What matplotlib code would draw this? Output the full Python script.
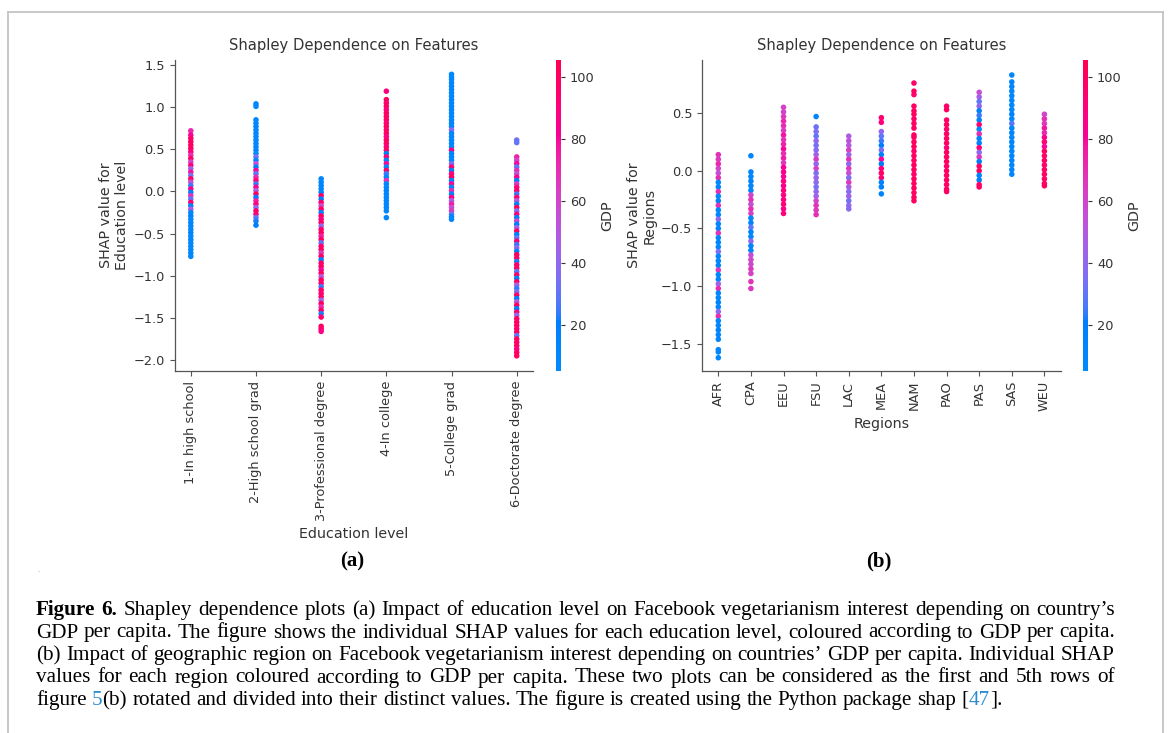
import re
import numpy as np
import matplotlib
matplotlib.use('Agg')
import matplotlib.pyplot as plt
from matplotlib.colors import ListedColormap, Normalize
from matplotlib.lines import Line2D

# ---- data: SHAP values (y) and GDP (colour) per category ----
edu_levels = ['1-In high school', '2-High school grad', '3-Professional degree',
              '4-In college', '5-College grad', '6-Doctorate degree']

hs_shap = [0.72, 0.67, 0.63, 0.59, 0.55, 0.51, 0.47, 0.43, 0.39, 0.35, 0.31, 0.27, 0.23,
           0.19, 0.15, 0.11, 0.07, 0.03, -0.01, -0.05, -0.09, -0.13, -0.17, -0.21, -0.25,
           -0.29, -0.33, -0.37, -0.41, -0.45, -0.49, -0.53, -0.57, -0.61, -0.65, -0.69,
           -0.73, -0.77]
hs_gdp = [72, 80, 95, 100, 98, 100, 88, 70, 96, 60, 90, 45, 78, 35, 100, 55, 25, 85, 15,
          68, 30, 95, 12, 50, 10, 20, 8, 12, 10, 9, 14, 8, 11, 9, 10, 8, 12, 9]

hsg_shap = [1.04, 1.01, 0.85, 0.81, 0.77, 0.73, 0.69, 0.65, 0.61, 0.57, 0.53, 0.49, 0.45,
            0.41, 0.37, 0.33, 0.29, 0.25, 0.21, 0.17, 0.13, 0.09, 0.05, 0.01, -0.03, -0.07,
            -0.11, -0.15, -0.19, -0.23, -0.27, -0.31, -0.35, -0.40]
hsg_gdp = [8, 9, 10, 8, 12, 9, 10, 8, 11, 9, 10, 12, 8, 35, 10, 55, 14, 80, 30, 70, 95, 25,
           85, 45, 100, 20, 75, 92, 40, 98, 88, 30, 22, 18]

prof_shap = [0.15, 0.11, 0.07, 0.03, -0.01, -0.05, -0.09, -0.13, -0.17, -0.21, -0.25,
             -0.29, -0.33, -0.37, -0.41, -0.45, -0.49, -0.53, -0.57, -0.61, -0.65, -0.69,
             -0.73, -0.77, -0.81, -0.85, -0.89, -0.93, -0.97, -1.01, -1.05, -1.09, -1.13,
             -1.17, -1.21, -1.25, -1.29, -1.33, -1.37, -1.41, -1.45, -1.49, -1.60, -1.63,
             -1.66]
prof_gdp = [10, 8, 12, 9, 14, 100, 20, 95, 60, 100, 15, 98, 85, 100, 40, 96, 100, 75, 100,
            30, 95, 100, 65, 100, 18, 98, 100, 80, 100, 50, 100, 95, 25, 100, 90, 100, 45,
            100, 70, 100, 22, 96, 100, 95, 88]

incol_shap = [1.19, 1.09, 1.05, 1.01, 0.97, 0.93, 0.89, 0.85, 0.81, 0.77, 0.73, 0.69, 0.65,
              0.61, 0.57, 0.53, 0.49, 0.45, 0.41, 0.37, 0.33, 0.29, 0.25, 0.21, 0.17, 0.13,
              0.09, 0.05, 0.01, -0.03, -0.07, -0.11, -0.15, -0.19, -0.23, -0.31]
incol_gdp = [90, 100, 95, 100, 88, 100, 98, 100, 92, 100, 96, 100, 85, 100, 98, 90, 100, 20,
             95, 15, 80, 12, 100, 25, 10, 70, 12, 8, 14, 10, 9, 12, 8, 11, 9, 12]

cgrad_shap = [1.39, 1.36, 1.33, 1.29, 1.25, 1.21, 1.17, 1.13, 1.09, 1.05, 1.01, 0.97, 0.93,
              0.89, 0.85, 0.81, 0.77, 0.73, 0.69, 0.65, 0.61, 0.57, 0.53, 0.49, 0.45, 0.41,
              0.37, 0.33, 0.29, 0.25, 0.21, 0.17, 0.13, 0.09, 0.05, 0.01, -0.03, -0.07,
              -0.11, -0.15, -0.19, -0.23, -0.27, -0.30, -0.33]
cgrad_gdp = [8, 9, 10, 8, 12, 9, 10, 8, 11, 9, 10, 12, 8, 10, 9, 11, 8, 40, 10, 12, 9, 10, 8,
             85, 12, 10, 9, 35, 95, 20, 90, 100, 15, 80, 10, 70, 12, 88, 45, 75, 55, 65, 30,
             12, 10]

doc_shap = [0.61, 0.58, 0.41, 0.37, 0.33, 0.29, 0.25, 0.21, 0.17, 0.13, 0.09, 0.05, 0.01,
            -0.03, -0.07, -0.11, -0.15, -0.19, -0.23, -0.27, -0.31, -0.35, -0.39, -0.43,
            -0.47, -0.51, -0.55, -0.59, -0.63, -0.67, -0.71, -0.75, -0.79, -0.83, -0.87,
            -0.91, -0.95, -0.99, -1.03, -1.07, -1.11, -1.15, -1.19, -1.23, -1.27, -1.31,
            -1.35, -1.39, -1.43, -1.47, -1.51, -1.55, -1.59, -1.63, -1.67, -1.71, -1.75,
            -1.79, -1.83, -1.87, -1.91, -1.95]
doc_gdp = [32, 30, 75, 60, 80, 30, 70, 55, 85, 20, 65, 90, 100, 25, 95, 50, 15, 100, 35, 90,
           20, 60, 20, 45, 100, 15, 30, 95, 25, 40, 18, 100, 100, 22, 95, 100, 30, 98, 15,
           100, 45, 25, 35, 100, 20, 50, 100, 18, 95, 40, 100, 100, 100, 95, 100, 30, 100,
           98, 100, 85, 100, 100]

regions = ['AFR', 'CPA', 'EEU', 'FSU', 'LAC', 'MEA', 'NAM', 'PAO', 'PAS', 'SAS', 'WEU']

afr_shap = [0.14, 0.10, 0.06, 0.02, -0.02, -0.06, -0.10, -0.14, -0.18, -0.22, -0.26, -0.30,
            -0.34, -0.38, -0.42, -0.46, -0.50, -0.54, -0.58, -0.62, -0.66, -0.70, -0.74,
            -0.78, -0.82, -0.86, -0.90, -0.94, -0.98, -1.02, -1.06, -1.10, -1.14, -1.18,
            -1.22, -1.26, -1.30, -1.34, -1.38, -1.42, -1.46, -1.55, -1.57, -1.62]
afr_gdp = [68, 65, 72, 60, 55, 70, 12, 10, 70, 12, 15, 68, 10, 12, 40, 10, 14, 68, 10, 12,
           9, 35, 12, 10, 14, 65, 10, 12, 45, 70, 12, 10, 14, 10, 40, 70, 12, 10, 14, 10,
           12, 10, 12, 10]

cpa_shap = [0.13, -0.01, -0.05, -0.09, -0.13, -0.17, -0.21, -0.25, -0.29, -0.33, -0.37,
            -0.41, -0.45, -0.49, -0.53, -0.57, -0.61, -0.65, -0.69, -0.73, -0.77, -0.81,
            -0.85, -0.89, -0.96, -1.02]
cpa_gdp = [10, 12, 10, 14, 10, 12, 60, 68, 55, 70, 62, 12, 15, 30, 12, 10, 40, 14, 12, 55,
           60, 58, 65, 62, 68, 65]

eeu_shap = [0.55, 0.51, 0.47, 0.43, 0.39, 0.35, 0.31, 0.27, 0.23, 0.19, 0.15, 0.11, 0.07,
            0.03, -0.01, -0.05, -0.09, -0.13, -0.17, -0.21, -0.25, -0.29, -0.33, -0.37]
eeu_gdp = [62, 60, 66, 72, 70, 64, 78, 68, 74, 80, 70, 76, 66, 82, 85, 80, 88, 84, 90, 86,
           88, 92, 85, 90]

fsu_shap = [0.47, 0.38, 0.34, 0.30, 0.26, 0.22, 0.18, 0.14, 0.10, 0.06, 0.02, -0.02, -0.06,
            -0.10, -0.14, -0.18, -0.22, -0.26, -0.30, -0.34, -0.38]
fsu_gdp = [15, 32, 36, 30, 40, 34, 38, 44, 64, 40, 62, 36, 42, 38, 34, 40, 44, 60, 68, 66, 70]

lac_shap = [0.30, 0.26, 0.22, 0.18, 0.14, 0.10, 0.06, 0.02, -0.02, -0.06, -0.10, -0.14,
            -0.18, -0.22, -0.26, -0.30, -0.33]
lac_gdp = [48, 54, 50, 62, 44, 68, 40, 64, 56, 36, 66, 48, 38, 44, 34, 40, 38]

mea_shap = [0.46, 0.42, 0.34, 0.30, 0.26, 0.22, 0.18, 0.14, 0.10, 0.06, 0.02, -0.02, -0.06,
            -0.10, -0.14, -0.20]
mea_gdp = [95, 90, 40, 30, 25, 20, 35, 15, 80, 20, 90, 98, 95, 15, 18, 14]

nam_shap = [0.76, 0.69, 0.66, 0.56, 0.52, 0.49, 0.45, 0.41, 0.37, 0.31, 0.29, 0.25, 0.21,
            0.17, 0.13, 0.09, 0.05, 0.01, -0.03, -0.07, -0.11, -0.15, -0.19, -0.23, -0.26]
nam_gdp = [98, 100, 96, 100, 99, 100, 97, 100, 98, 100, 100, 99, 100, 97, 100, 98, 100,
           100, 96, 100, 99, 100, 98, 100, 100]

pao_shap = [0.56, 0.53, 0.44, 0.40, 0.36, 0.32, 0.28, 0.24, 0.20, 0.16, 0.12, 0.08, 0.04,
            0.00, -0.04, -0.08, -0.12, -0.16, -0.18]
pao_gdp = [97, 100, 98, 100, 96, 100, 99, 100, 92, 100, 98, 100, 97, 100, 99, 100, 98, 100,
           100]

pas_shap = [0.68, 0.64, 0.60, 0.56, 0.52, 0.48, 0.44, 0.40, 0.36, 0.32, 0.28, 0.24, 0.20,
            0.16, 0.12, 0.08, 0.04, 0.00, -0.04, -0.08, -0.12, -0.14]
pas_gdp = [55, 45, 30, 40, 20, 25, 15, 95, 12, 70, 18, 15, 92, 40, 65, 20, 98, 100, 15, 20,
           95, 100]

sas_shap = [0.83, 0.77, 0.73, 0.69, 0.65, 0.61, 0.57, 0.53, 0.49, 0.45, 0.41, 0.37, 0.33,
            0.29, 0.25, 0.21, 0.17, 0.13, 0.09, 0.05, 0.01, -0.03]
sas_gdp = [10, 10, 12, 9, 11, 10, 12, 9, 14, 10, 28, 12, 10, 9, 11, 10, 8, 12, 10, 9, 11, 10]

weu_shap = [0.49, 0.45, 0.41, 0.37, 0.33, 0.29, 0.25, 0.21, 0.17, 0.13, 0.09, 0.05, 0.01,
            -0.03, -0.07, -0.11, -0.13]
weu_gdp = [60, 70, 65, 78, 72, 85, 95, 80, 100, 98, 100, 96, 100, 98, 100, 97, 100]

edu_shap = [hs_shap, hsg_shap, prof_shap, incol_shap, cgrad_shap, doc_shap]
edu_gdp = [hs_gdp, hsg_gdp, prof_gdp, incol_gdp, cgrad_gdp, doc_gdp]
reg_shap = [afr_shap, cpa_shap, eeu_shap, fsu_shap, lac_shap, mea_shap, nam_shap,
            pao_shap, pas_shap, sas_shap, weu_shap]
reg_gdp = [afr_gdp, cpa_gdp, eeu_gdp, fsu_gdp, lac_gdp, mea_gdp, nam_gdp, pao_gdp,
           pas_gdp, sas_gdp, weu_gdp]
gdp_ticks = [20, 40, 60, 80, 100]

caption_lines = [
    "**Figure** **6.** Shapley dependence plots (a) Impact of education level on Facebook vegetarianism interest depending on country\u2019s",
    "GDP per capita. The figure shows the individual SHAP values for each education level, coloured according to GDP per capita.",
    "(b) Impact of geographic region on Facebook vegetarianism interest depending on countries\u2019 GDP per capita. Individual SHAP",
    "values for each region coloured according to GDP per capita. These two plots can be considered as the first and 5th rows of",
    "figure __5__(b) rotated and divided into their distinct values. The figure is created using the Python package shap [__47__].",
]


# shap's red_blue colormap (LCH interpolation blue -> red)
def shap_red_blue(n=256):
    L = np.full(n, 54.0)
    C = np.linspace(70.0, 90.0, n)
    H = np.linspace(4.6588, 0.35470565 + 2 * np.pi, n)
    a, b = C * np.cos(H), C * np.sin(H)
    fy = (L + 16) / 116
    fx, fz = fy + a / 500, fy - b / 200
    finv = lambda t: np.where(t > 6 / 29, t ** 3, 3 * (6 / 29) ** 2 * (t - 4 / 29))
    xyz = np.vstack([0.95047 * finv(fx), finv(fy), 1.08883 * finv(fz)])
    M = np.array([[3.2406, -1.5372, -0.4986], [-0.9689, 1.8758, 0.0415],
                  [0.0557, -0.2040, 1.0570]])
    rgb = np.clip(M @ xyz, 0, 1)
    rgb = np.where(rgb > 0.0031308, 1.055 * rgb ** (1 / 2.4) - 0.055, 12.92 * rgb)
    return ListedColormap(np.clip(rgb.T, 0, 1))


cmap = shap_red_blue()
norm = Normalize(vmin=5, vmax=105.5)
grey = '#333333'

W, H = 1170, 733
fig = plt.figure(figsize=(W / 100, H / 100), dpi=100)


def fx(px):
    return px / W


def fy(py):
    return 1 - py / H


def panel(left, right, cbar_left, cats, shaps, gdps, ylim, yticks, ylabel, xlabel, pad):
    ax = fig.add_axes([fx(left), fy(371), fx(right - left), (371 - 60) / H])
    for cat, s, g in zip(cats, shaps, gdps):
        sc = ax.scatter([cat] * len(s), s, c=g, cmap=cmap, norm=norm, s=16, linewidths=0)
    ax.set_xlim(-pad, len(cats) - 1 + pad)
    ax.set_ylim(*ylim)
    ax.set_yticks(yticks)
    ax.set_title('Shapley Dependence on Features', fontsize=10.6, color=grey, pad=7)
    ax.set_ylabel(ylabel, fontsize=10.3, color=grey, labelpad=3)
    ax.set_xlabel(xlabel, fontsize=10.3, color=grey)
    for sp in ['top', 'right']:
        ax.spines[sp].set_visible(False)
    for sp in ['left', 'bottom']:
        ax.spines[sp].set_color('#555555')
        ax.spines[sp].set_linewidth(0.9)
    ax.tick_params(labelsize=9.3, labelcolor=grey, color='#555555', length=3.5, width=0.8)
    ax.tick_params(axis='x', labelrotation=90)
    cax = fig.add_axes([fx(cbar_left), fy(371), fx(5), (371 - 60) / H])
    cb = fig.colorbar(sc, cax=cax, ticks=gdp_ticks)
    cb.outline.set_visible(False)
    cb.ax.tick_params(labelsize=9.3, labelcolor=grey, color=grey, length=3, width=0.8)
    cb.set_label('GDP', fontsize=10.3, color=grey, labelpad=4)
    return ax


panel(174.5, 533, 556, edu_levels, edu_shap, edu_gdp, (-2.13, 1.56),
      [-2.0, -1.5, -1.0, -0.5, 0.0, 0.5, 1.0, 1.5],
      'SHAP value for\nEducation level', 'Education level', 0.25)
panel(702, 1060.7, 1083, regions, reg_shap, reg_gdp, (-1.735, 0.96),
      [-1.5, -1.0, -0.5, 0.0, 0.5],
      'SHAP value for\nRegions', 'Regions', 0.5)

fig.text(fx(352), fy(561), '(a)', family='Liberation Serif', weight='bold', fontsize=15,
         ha='center', va='center')
fig.text(fx(879), fy(561), '(b)', family='Liberation Serif', weight='bold', fontsize=15,
         ha='center', va='center')

# page frame
frame = dict(transform=fig.transFigure, color='#c4c4c4', lw=1.3)
fig.add_artist(Line2D([fx(8), fx(8)], [0, fy(12)], **frame))
fig.add_artist(Line2D([fx(8), fx(1163)], [fy(12), fy(12)], **frame))
fig.add_artist(Line2D([fx(1163), fx(1163)], [fy(12), 0], **frame))
fig.text(fx(37), fy(572), '.', fontsize=5, color='#999999')

# caption, justified word by word
renderer = fig.canvas.get_renderer()
cap_fs = 15.2
styles = {'n': dict(), 'b': dict(weight='bold'), 'l': dict(color='#2a8bd0')}


def parse(word):
    segs = []
    for part in re.split(r'(\*\*.*?\*\*|__.*?__)', word):
        if not part:
            continue
        if part.startswith('**'):
            segs.append((part[2:-2], 'b'))
        elif part.startswith('__'):
            segs.append((part[2:-2], 'l'))
        else:
            segs.append((part, 'n'))
    return segs


def width(txt, st):
    t = fig.text(0, 0, txt, fontsize=cap_fs, family='Liberation Serif', **styles[st])
    w = t.get_window_extent(renderer).width
    t.remove()
    return w


space = width('a a', 'n') - width('aa', 'n')
x0, x1 = 36, 1115
baselines = [615, 637.5, 660, 682.5, 705]
for i, line in enumerate(caption_lines):
    words = [parse(w) for w in line.split(' ')]
    widths = [sum(width(t, st) for t, st in w) for w in words]
    if i < len(caption_lines) - 1:
        gap = (x1 - x0 - sum(widths)) / (len(words) - 1)
    else:
        gap = space
    x = x0
    for w, ww in zip(words, widths):
        xx = x
        for t, st in w:
            fig.text(fx(xx), fy(baselines[i]), t, fontsize=cap_fs, family='Liberation Serif',
                     va='baseline', ha='left', **styles[st])
            xx += width(t, st)
        x += ww + gap

fig.savefig('out.png', dpi=100)
